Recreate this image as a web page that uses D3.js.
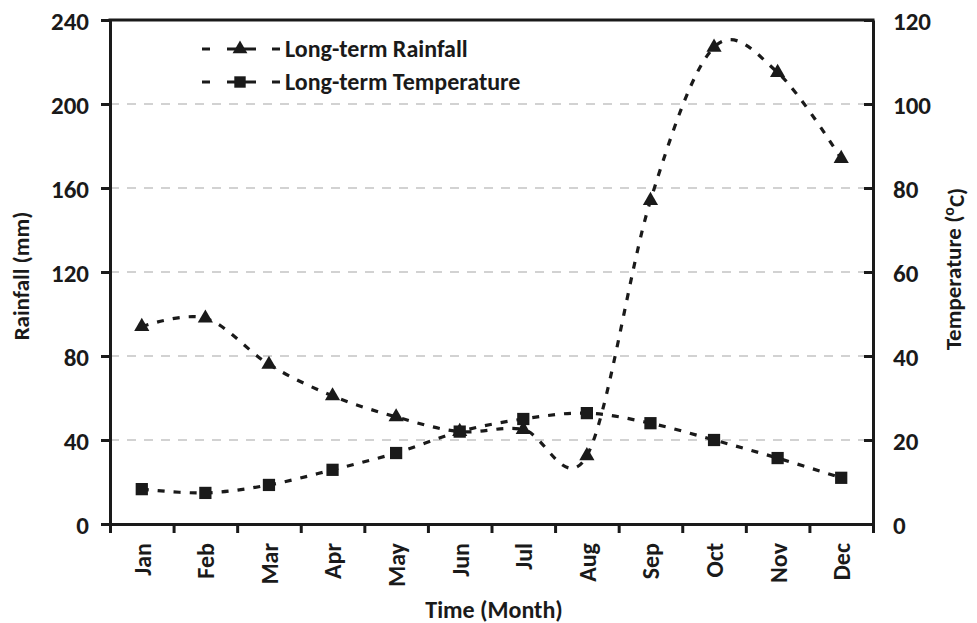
<!DOCTYPE html>
<html>
<head>
<meta charset="utf-8">
<script src="https://cdn.jsdelivr.net/npm/d3@7"></script>
<style>
  body { margin: 0; background: #fff; }
  text { font-family: Carlito, "Open Sans", sans-serif; font-weight: 700; fill: #1a1a1a; }
</style>
</head>
<body>
<svg id="chart" width="977" height="623"></svg>
<script>
// values
const months = ["Jan", "Feb", "Mar", "Apr", "May", "Jun", "Jul", "Aug", "Sep", "Oct", "Nov", "Dec"];
const rainfall = [94, 98, 76, 61, 51, 44, 45, 32.5, 154, 227, 215, 174];
const temperature = [8.3, 7.4, 9.3, 12.9, 16.9, 22, 25, 26.4, 24, 20, 15.7, 11];
const rainTicks = [0, 40, 80, 120, 160, 200, 240];
const tempTicks = [0, 20, 40, 60, 80, 100, 120];

const svg = d3.select("#chart");
const plotLeft = 110, plotRight = 873, plotTop = 20, plotBottom = 524;
const ink = "#1a1a1a";

const x = d3.scaleBand().domain(months).range([plotLeft, plotRight]).padding(0);
const xEdge = d3.scaleLinear().domain([0, 12]).range([plotLeft, plotRight]);
const yL = d3.scaleLinear().domain([0, 240]).range([plotBottom, plotTop]);
const yR = d3.scaleLinear().domain([0, 120]).range([plotBottom, plotTop]);
const cx = (d) => x(d) + x.bandwidth() / 2;

// grid lines
svg.append("g")
  .selectAll("line")
  .data(rainTicks.filter((d) => d > 0 && d < 240))
  .join("line")
  .attr("x1", plotLeft).attr("x2", plotRight)
  .attr("y1", (d) => yL(d)).attr("y2", (d) => yL(d))
  .attr("stroke", "#d2d2d2")
  .attr("stroke-width", 2)
  .attr("stroke-dasharray", "9,8");

// frame top line
svg.append("line")
  .attr("x1", plotLeft - 1.5).attr("x2", plotRight + 1.5)
  .attr("y1", plotTop).attr("y2", plotTop)
  .attr("stroke", ink).attr("stroke-width", 3);

// axes
const styleAxis = (g) => {
  g.select(".domain").attr("stroke", ink).attr("stroke-width", 3);
  g.selectAll(".tick line").attr("stroke", ink).attr("stroke-width", 3);
  g.selectAll(".tick text").attr("fill", ink).style("font-size", "25px");
};

svg.append("g")
  .attr("transform", `translate(${plotLeft},0)`)
  .call(d3.axisLeft(yL).tickValues(rainTicks).tickSize(9).tickPadding(12).tickSizeOuter(0))
  .call(styleAxis)
  .call((g) => g.selectAll(".tick text").attr("dy", "0.36em"));

svg.append("g")
  .attr("transform", `translate(${plotRight},0)`)
  .call(d3.axisRight(yR).tickValues(tempTicks).tickSize(-9).tickPadding(20).tickSizeOuter(0))
  .call(styleAxis)
  .call((g) => g.selectAll(".tick text").attr("dy", "0.36em"));

svg.append("g")
  .attr("transform", `translate(0,${plotBottom})`)
  .call(d3.axisBottom(xEdge).ticks(12).tickSize(9).tickFormat("").tickSizeOuter(0))
  .call(styleAxis);

// month labels, rotated
svg.append("g")
  .selectAll("text")
  .data(months)
  .join("text")
  .attr("transform", (d) => `translate(${cx(d) + 1},543) rotate(-90)`)
  .attr("text-anchor", "end")
  .attr("dy", "0.33em")
  .style("font-size", "24px")
  .text((d) => d);

// axis titles
svg.append("text")
  .attr("transform", `translate(29,276) rotate(-90)`)
  .attr("text-anchor", "middle")
  .style("font-size", "23px")
  .text("Rainfall (mm)");

const tTitle = svg.append("text")
  .attr("transform", `translate(961,269) rotate(-90)`)
  .attr("text-anchor", "middle")
  .style("font-size", "23px");
tTitle.append("tspan").text("Temperature (");
tTitle.append("tspan").attr("dy", "-0.45em").style("font-size", "16px").text("o");
tTitle.append("tspan").attr("dy", "0.45em").text("C)");

svg.append("text")
  .attr("x", 494).attr("y", 618)
  .attr("text-anchor", "middle")
  .style("font-size", "24px")
  .text("Time (Month)");

// lines
const curve = d3.curveCatmullRom.alpha(0);
const series = [
  { name: "Long-term Rainfall", values: rainfall, y: yL, symbol: d3.symbolTriangle, size: 100 },
  { name: "Long-term Temperature", values: temperature, y: yR, symbol: d3.symbolSquare, size: 150 }
];

series.forEach((s) => {
  const line = d3.line()
    .x((d, i) => cx(months[i]))
    .y((d) => s.y(d))
    .curve(curve);

  svg.append("path")
    .datum(s.values)
    .attr("d", line)
    .attr("fill", "none")
    .attr("stroke", ink)
    .attr("stroke-width", 3.2)
    .attr("stroke-dasharray", "7,9");

  svg.append("g")
    .selectAll("path")
    .data(s.values)
    .join("path")
    .attr("transform", (d, i) => `translate(${cx(months[i])},${s.y(d)})`)
    .attr("d", d3.symbol().type(s.symbol).size(s.size))
    .attr("fill", ink);
});

// legend
const legend = svg.append("g");
series.forEach((s, i) => {
  const ly = 49 + i * 33;
  legend.append("line")
    .attr("x1", 202).attr("x2", 280)
    .attr("y1", ly).attr("y2", ly)
    .attr("stroke", ink).attr("stroke-width", 3.2)
    .attr("stroke-dasharray", "8,17,29,16,8");
  legend.append("path")
    .attr("transform", `translate(240,${ly})`)
    .attr("d", d3.symbol().type(s.symbol).size(s.symbol === d3.symbolSquare ? 130 : 95))
    .attr("fill", ink);
  legend.append("text")
    .attr("x", 285).attr("y", ly)
    .attr("dy", "0.33em")
    .style("font-size", "24px")
    .text(s.name);
});
</script>
</body>
</html>
